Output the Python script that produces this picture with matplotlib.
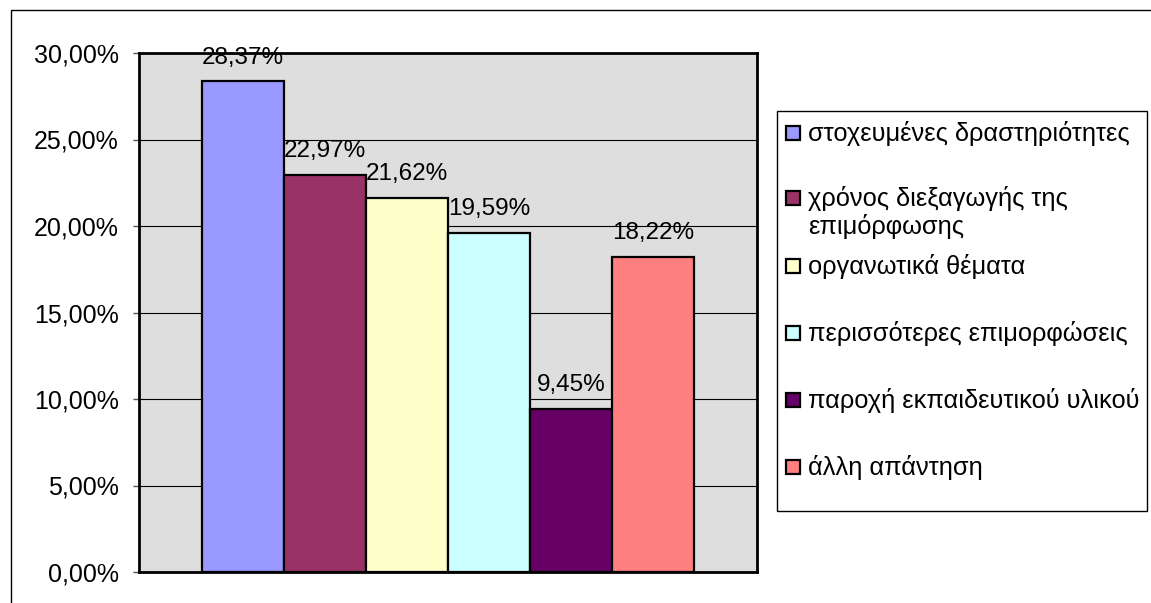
import matplotlib.pyplot as plt
from matplotlib.patches import Rectangle
from matplotlib.ticker import FuncFormatter

plt.rcParams['font.family'] = ['Liberation Sans', 'DejaVu Sans']

# Answers and their shares
categories = ['στοχευμένες δραστηριότητες',
              'χρόνος διεξαγωγής της\nεπιμόρφωσης',
              'οργανωτικά θέματα',
              'περισσότερες επιμορφώσεις',
              'παροχή εκπαιδευτικού υλικού',
              'άλλη απάντηση']
shares = [28.37, 22.97, 21.62, 19.59, 9.45, 18.22]
colors = ['#9999FF', '#993366', '#FFFFCC', '#CCFFFF', '#660066', '#FF8080']
yticks = [0, 5, 10, 15, 20, 25, 30]

W, H = 1151, 603
fig = plt.figure(figsize=(W / 100, H / 100), dpi=100)

# outer chart frame (right/bottom edges fall off the canvas)
fig.patches.append(Rectangle((11 / W, -0.01), 1.2, 1 - 10 / H + 0.01,
                             transform=fig.transFigure, fill=False,
                             edgecolor='black', linewidth=1))

ax = fig.add_axes([139 / W, 1 - 572 / H, (757 - 139) / W, (572 - 53) / H])
ax.set_facecolor('#dedede')

n = len(shares)
width = 0.796 / n
for i, (v, c) in enumerate(zip(shares, colors)):
    x = -0.398 + width * (i + 0.5)
    ax.bar(x, v, width=width, color=c, edgecolor='black', linewidth=1.6, zorder=3)
    ax.annotate(f'{v:.2f}%'.replace('.', ','), (x, v), xytext=(0, 17),
                textcoords='offset points', ha='center', va='center',
                fontsize=17.5, zorder=4)

ax.set_xlim(-0.5, 0.5)
ax.set_ylim(0, 30)
ax.set_yticks(yticks)
ax.yaxis.set_major_formatter(FuncFormatter(lambda v, p: f'{v:.2f}%'.replace('.', ',')))
ax.tick_params(axis='y', labelsize=18, length=4.5, width=1, color='#555555', pad=10)
ax.set_xticks([])
ax.grid(axis='y', color='black', linewidth=0.8, zorder=1)
ax.set_axisbelow(True)
for s in ax.spines.values():
    s.set_linewidth(2)
    s.set_color('black')

# legend drawn in pixel positions
fig.patches.append(Rectangle((777 / W, 1 - 511 / H), (1147 - 777) / W, (511 - 111) / H,
                             transform=fig.transFigure, fill=False,
                             edgecolor='black', linewidth=1))
rows = [133, 198, 266, 333, 400, 467]
for lab, c, y in zip(categories, colors, rows):
    fig.patches.append(Rectangle((786 / W, 1 - (y + 7) / H), 14 / W, 14 / H,
                                 transform=fig.transFigure, facecolor=c,
                                 edgecolor='black', linewidth=1.6))
    fig.text(808 / W, 1 - (y - 12) / H, lab, fontsize=18.3, ha='left', va='top',
             linespacing=1.15)

fig.savefig('out.png', dpi=100)
